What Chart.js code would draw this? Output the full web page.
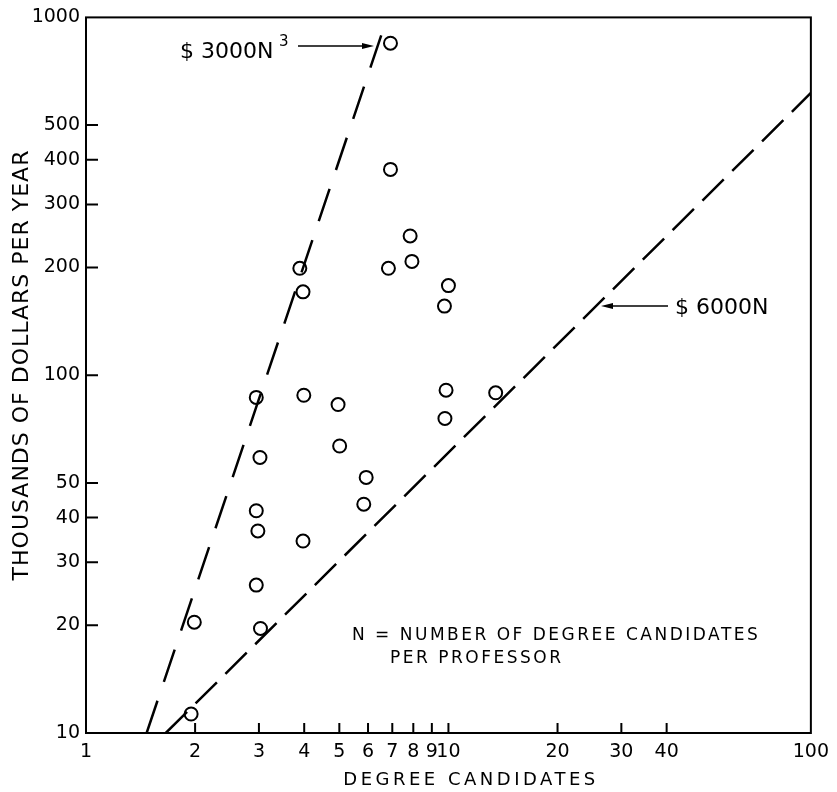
<!DOCTYPE html>
<html>
<head>
<meta charset="utf-8">
<script src="https://cdn.jsdelivr.net/npm/chart.js@4.4.0/dist/chart.umd.min.js"></script>
<style>
html, body { margin: 0; padding: 0; background: #fff; }
</style>
</head>
<body>
<canvas id="chart" width="837" height="792"></canvas>
<script>
// values
const degreeCandidates = [1.99, 2.95, 3.03, 1.95, 3.97, 2.95, 3.99, 4.96, 3.02, 5.01, 5.93, 5.84, 2.95,
    2.98, 3.97, 6.92, 6.92, 7.84, 7.93, 6.83, 3.89, 10.0, 9.75, 9.85, 13.5, 9.78];
const thousandsPerYear = [20.4, 25.9, 19.6, 11.3, 171, 86.7, 87.9, 82.8, 58.9, 63.4, 51.8, 43.6, 41.8,
    36.7, 34.4, 847, 376, 245, 208, 199, 199, 178, 156, 90.8, 89.3, 75.7];

// the two reference lines ($3000N^3 and $6000N), end points only
const cubicN = [1.47, 6.78];
const cubicCost = [10, 1000];
const linearN = [1.66, 100];
const linearCost = [10, 615];

const xTicks = [1, 2, 3, 4, 5, 6, 7, 8, 9, 10, 20, 30, 40, 100];
const yTicks = [10, 20, 30, 40, 50, 100, 200, 300, 400, 500, 1000];

const FONT = 'DejaVu Sans';

function arrow(ctx, x1, y1, x2, y2) {
    const ang = Math.atan2(y2 - y1, x2 - x1);
    ctx.beginPath();
    ctx.moveTo(x1, y1);
    ctx.lineTo(x2 - 9 * Math.cos(ang), y2 - 9 * Math.sin(ang));
    ctx.lineWidth = 1.5;
    ctx.stroke();
    ctx.beginPath();
    ctx.moveTo(x2, y2);
    ctx.lineTo(x2 - 12 * Math.cos(ang) + 3 * Math.sin(ang), y2 - 12 * Math.sin(ang) - 3 * Math.cos(ang));
    ctx.lineTo(x2 - 12 * Math.cos(ang) - 3 * Math.sin(ang), y2 - 12 * Math.sin(ang) + 3 * Math.cos(ang));
    ctx.closePath();
    ctx.fill();
}

const framePlugin = {
    id: 'frame',
    afterDraw(chart) {
        const ctx = chart.ctx;
        const { left, right, top, bottom } = chart.chartArea;
        const xs = chart.scales.x, ys = chart.scales.y;
        ctx.save();
        ctx.strokeStyle = '#000';
        ctx.fillStyle = '#000';
        ctx.lineWidth = 2;
        ctx.strokeRect(left, top, right - left, bottom - top);

        // inward tick marks
        ctx.beginPath();
        xs.ticks.forEach(t => {
            if (t.value <= xs.min || t.value >= xs.max) return;
            const px = xs.getPixelForValue(t.value);
            ctx.moveTo(px, bottom);
            ctx.lineTo(px, bottom - 10);
        });
        ys.ticks.forEach(t => {
            if (t.value <= ys.min || t.value >= ys.max) return;
            const py = ys.getPixelForValue(t.value);
            ctx.moveTo(left, py);
            ctx.lineTo(left + 12, py);
        });
        ctx.stroke();

        // axis titles
        ctx.textBaseline = 'middle';
        ctx.textAlign = 'center';
        ctx.font = '18px "' + FONT + '"';
        ctx.letterSpacing = '3.5px';
        ctx.fillText('DEGREE CANDIDATES', 471, 780);

        ctx.save();
        ctx.translate(22, 365);
        ctx.rotate(-Math.PI / 2);
        ctx.font = '22px "' + FONT + '"';
        ctx.letterSpacing = '1px';
        ctx.fillText('THOUSANDS OF DOLLARS PER YEAR', 0, 0);
        ctx.restore();

        // annotations
        ctx.textAlign = 'left';
        ctx.letterSpacing = '0px';
        ctx.font = '22px "' + FONT + '"';
        ctx.fillText('$ 3000N', 180, 52);
        ctx.font = '15px "' + FONT + '"';
        ctx.fillText('3', 279, 42);
        arrow(ctx, 298, 46, 374, 46);

        ctx.font = '22px "' + FONT + '"';
        ctx.fillText('$ 6000N', 675, 308);
        arrow(ctx, 668, 306, 601, 306);

        ctx.font = '17px "' + FONT + '"';
        ctx.letterSpacing = '2.5px';
        ctx.fillText('N = NUMBER OF DEGREE CANDIDATES', 352, 636);
        ctx.fillText('PER PROFESSOR', 390, 659);
        ctx.restore();
    }
};

const ctx = document.getElementById('chart').getContext('2d');

new Chart(ctx, {
    type: 'scatter',
    data: {
        datasets: [
            {
                label: 'departments',
                data: degreeCandidates.map((n, i) => ({ x: n, y: thousandsPerYear[i] })),
                pointStyle: 'circle',
                pointRadius: 6.5,
                pointBorderWidth: 2,
                pointBorderColor: '#000',
                pointBackgroundColor: 'rgba(0,0,0,0)',
                showLine: false
            },
            {
                label: '$3000N^3',
                data: cubicN.map((n, i) => ({ x: n, y: cubicCost[i] })),
                showLine: true,
                borderColor: '#000',
                borderWidth: 2.5,
                borderDash: [34, 20],
                pointRadius: 0
            },
            {
                label: '$6000N',
                data: linearN.map((n, i) => ({ x: n, y: linearCost[i] })),
                showLine: true,
                borderColor: '#000',
                borderWidth: 2.5,
                borderDash: [30, 12],
                pointRadius: 0
            }
        ]
    },
    options: {
        responsive: false,
        animation: false,
        layout: { padding: { top: 17, right: 25, left: 0, bottom: 0 } },
        plugins: {
            legend: { display: false },
            tooltip: { enabled: false }
        },
        scales: {
            x: {
                type: 'logarithmic',
                min: 1,
                max: 100,
                grid: { display: false, drawTicks: false },
                border: { display: false },
                afterBuildTicks: s => { s.ticks = xTicks.map(v => ({ value: v })); },
                afterFit: s => { s.height = 59; },
                ticks: {
                    autoSkip: false,
                    maxRotation: 0,
                    padding: 8,
                    color: '#000',
                    font: { family: FONT, size: 19 },
                    callback: v => String(v)
                }
            },
            y: {
                type: 'logarithmic',
                min: 10,
                max: 1000,
                grid: { display: false, drawTicks: false },
                border: { display: false },
                afterBuildTicks: s => { s.ticks = yTicks.map(v => ({ value: v })); },
                afterFit: s => { s.width = 86; },
                ticks: {
                    autoSkip: false,
                    padding: 6,
                    color: '#000',
                    font: { family: FONT, size: 19 },
                    callback: v => String(v)
                }
            }
        }
    },
    plugins: [framePlugin]
});
</script>
</body>
</html>
